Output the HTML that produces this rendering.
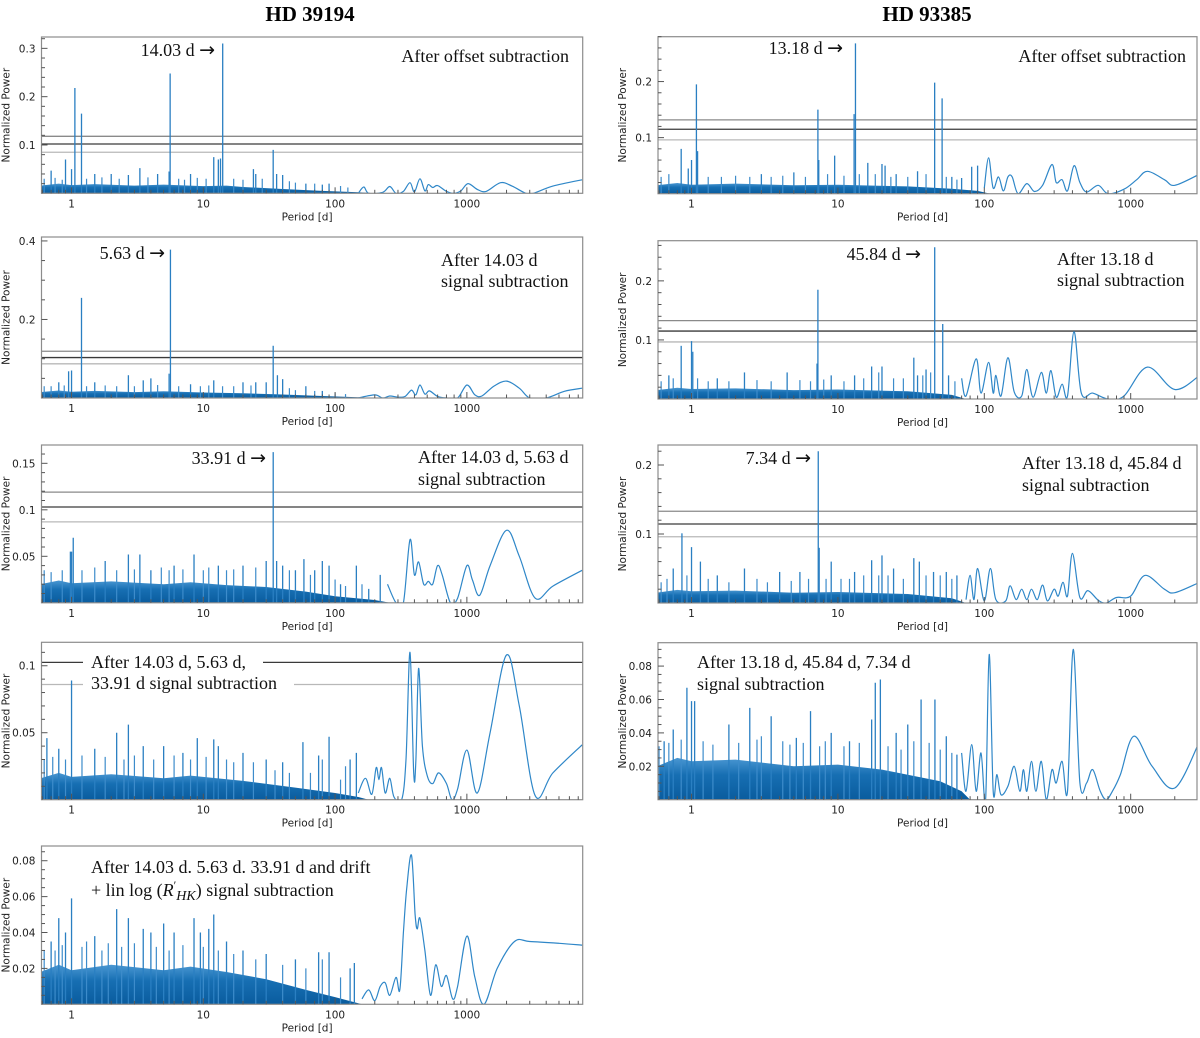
<!DOCTYPE html>
<html><head><meta charset="utf-8"><style>
html,body{margin:0;padding:0;background:#fff;}
svg{display:block;}
.tk{font-family:"DejaVu Sans","Liberation Sans",sans-serif;font-size:10.5px;fill:#222;}
.ann{font-family:"Liberation Serif",serif;font-size:18px;fill:#111;}
.ttl{font-family:"Liberation Serif",serif;font-size:21px;font-weight:bold;fill:#000;}
</style></head><body>
<svg id="fig" width="1200" height="1038" viewBox="0 0 1200 1038" xmlns="http://www.w3.org/2000/svg">
<defs><linearGradient id="nf" x1="0" y1="1" x2="0" y2="0"><stop offset="0" stop-color="#0a5c9e"/><stop offset="0.6" stop-color="#176fb3"/><stop offset="1" stop-color="#4a97d2"/></linearGradient></defs>
<text class="ttl" x="310" y="21" text-anchor="middle">HD 39194</text>
<text class="ttl" x="927" y="21" text-anchor="middle">HD 93385</text>
</svg>
<script>
// ---- data (period [d], power) ----
const l1Floor = [[0.58,0.016],[0.8,0.02],[1,0.017],[1.5,0.019],[3,0.016],[5,0.018],[10,0.015],[15,0.016],[20,0.013],[40,0.009],[80,0.005],[150,0.002],[200,0]];
const l1Spikes = [[1.06,0.218],[1.19,0.165],[5.6,0.248],[14.03,0.31],[33.9,0.09],[12,0.075],[13,0.07],[13.5,0.072],[0.9,0.07],[0.7,0.047],[1.0,0.05],[3.3,0.052],[24,0.05],[25,0.04],[36,0.04],[40,0.038],[2,0.04],[5.5,0.045],[1.5,0.04],[8,0.04],[60,0.02],[80,0.018],[90,0.02],[2.7,0.038],[4.5,0.04]];
const l1Minor = [[0.62,0.03],[0.75,0.032],[0.85,0.028],[1.3,0.03],[1.7,0.033],[2.3,0.03],[3.8,0.033],[6.5,0.03],[7.2,0.028],[9,0.032],[10.5,0.03],[17,0.03],[20,0.028],[28,0.03],[45,0.025],[50,0.022],[70,0.02],[110,0.015],[125,0.012]];
const l1Smooth = [[150,0],[165,0.013],[180,0],[230,0.002],[260,0.014],[290,0],[330,0.004],[370,0.022],[400,0.003],[440,0.03],[480,0.005],[510,0.018],[550,0.012],[600,0.016],[700,0.004],[800,0],[900,0.005],[1020,0.02],[1200,0.008],[1400,0.004],[1800,0.022],[2200,0.015],[2800,0],[3200,0],[4500,0.015],[7500,0.028]];

const l2Floor = [[0.58,0.015],[0.8,0.019],[1,0.016],[1.5,0.018],[3,0.015],[5,0.017],[10,0.014],[20,0.012],[40,0.009],[80,0.005],[150,0.002],[200,0]];
const l2Spikes = [[1.19,0.255],[5.63,0.378],[33.9,0.133],[36.5,0.058],[1.0,0.07],[0.95,0.068],[5.5,0.062],[2.7,0.058],[4,0.05],[3.5,0.045],[40,0.048],[30,0.04],[20,0.04],[12,0.045],[0.8,0.04],[8,0.035],[25,0.04],[60,0.03],[80,0.018],[1.5,0.04]];
const l2Minor = [[0.62,0.03],[0.7,0.03],[0.88,0.032],[1.3,0.03],[1.8,0.032],[2.2,0.03],[3,0.03],[4.5,0.033],[6.5,0.03],[9.5,0.03],[11,0.032],[14,0.03],[17,0.03],[23,0.032],[45,0.025],[50,0.02],[70,0.018],[100,0.012],[120,0.01]];
const l2Smooth = [[150,0],[200,0.008],[230,0],[260,0.005],[300,0.002],[340,0.004],[380,0.02],[410,0.008],[440,0.033],[480,0.01],[520,0.018],[600,0.004],[700,0],[850,0],[1000,0.033],[1150,0.008],[1300,0.005],[1600,0.03],[2000,0.043],[2500,0.025],[3000,0],[4000,0],[5500,0.017],[7500,0.025]];

const l3Floor = [[0.58,0.02],[0.8,0.024],[1,0.021],[2,0.023],[5,0.02],[8,0.022],[15,0.019],[30,0.017],[60,0.012],[100,0.007],[200,0.003],[260,0]];
const l3Spikes = [[33.91,0.162],[1.0,0.055],[1.03,0.07],[0.98,0.055],[1.8,0.045],[2.7,0.052],[3.3,0.052],[8.5,0.052],[13,0.04],[30,0.045],[36,0.045],[40,0.04],[58,0.047],[80,0.045],[90,0.04],[145,0.04],[220,0.03],[6,0.04],[4,0.035],[20,0.04],[50,0.035],[70,0.035],[110,0.02],[180,0.015]];
const l3Minor = [[0.62,0.035],[0.7,0.033],[0.85,0.035],[1.2,0.035],[1.5,0.038],[2.2,0.035],[3,0.036],[4.8,0.038],[5.5,0.035],[7,0.036],[10,0.035],[11,0.038],[15,0.035],[17,0.036],[25,0.038],[45,0.035],[65,0.03],[100,0.025],[120,0.018],[160,0.02]];
const l3Smooth = [[250,0.02],[290,0],[330,0],[370,0.068],[400,0.03],[430,0.044],[470,0.02],[510,0.023],[550,0.02],[600,0.04],[650,0.03],[750,0],[850,0.005],[1000,0.04],[1100,0.025],[1250,0.008],[1500,0.04],[2000,0.078],[2500,0.05],[3300,0.005],[4500,0.018],[7500,0.035]];

const l4Floor = [[0.58,0.016],[0.8,0.02],[1,0.017],[2,0.019],[5,0.016],[8,0.018],[20,0.014],[50,0.009],[100,0.005],[150,0.002],[180,0]];
const l4Spikes = [[1.0,0.089],[0.65,0.046],[0.8,0.038],[2.2,0.05],[2.7,0.056],[3.5,0.04],[9,0.046],[12,0.045],[13,0.04],[20,0.035],[57,0.043],[75,0.033],[90,0.047],[130,0.03],[145,0.035],[1.5,0.038],[5,0.04],[7,0.035],[30,0.03],[40,0.028]];
const l4Minor = [[0.62,0.03],[0.72,0.032],[0.9,0.03],[1.2,0.033],[1.8,0.032],[2.5,0.03],[3,0.033],[4.2,0.03],[6,0.033],[8,0.03],[10.5,0.032],[15,0.03],[17,0.028],[24,0.028],[35,0.022],[45,0.02],[65,0.02],[80,0.03],[110,0.015],[120,0.025]];
const l4Smooth = [[150,0.005],[170,0.016],[190,0.004],[205,0.024],[215,0.015],[225,0.024],[240,0.005],[260,0.016],[280,0.002],[320,0],[345,0.03],[370,0.11],[395,0.02],[410,0.028],[430,0.098],[460,0.04],[500,0.018],[550,0.012],[610,0.02],[700,0.012],[770,0],[850,0.008],[1000,0.037],[1200,0.005],[1500,0.05],[2000,0.108],[2500,0.07],[3300,0.003],[4500,0.02],[7500,0.041]];

const l5Floor = [[0.58,0.018],[0.8,0.022],[1,0.019],[2,0.022],[5,0.019],[8,0.021],[15,0.018],[30,0.014],[60,0.008],[100,0.004],[160,0]];
const l5Spikes = [[1.0,0.059],[0.8,0.048],[0.9,0.04],[2.2,0.053],[2.7,0.048],[3.5,0.042],[5,0.045],[8.5,0.048],[12,0.05],[11,0.042],[1.5,0.038],[4,0.04],[6,0.04],[9.5,0.04],[15,0.035],[20,0.03],[30,0.028],[50,0.025],[75,0.029],[90,0.029],[130,0.02],[140,0.023],[0.7,0.035]];
const l5Minor = [[0.62,0.03],[0.75,0.03],[0.85,0.033],[1.2,0.032],[1.3,0.035],[1.7,0.03],[1.9,0.034],[2.4,0.032],[3,0.034],[4.4,0.032],[5.5,0.03],[7,0.033],[10,0.032],[13,0.03],[17,0.028],[25,0.025],[40,0.022],[60,0.02],[80,0.025],[110,0.015]];
const l5Smooth = [[160,0.003],[180,0.008],[200,0.002],[220,0.01],[240,0.012],[260,0.005],[290,0.015],[310,0.008],[330,0.04],[350,0.065],[380,0.083],[405,0.05],[420,0.042],[440,0.048],[480,0.03],[530,0.005],[580,0.022],[640,0.01],[700,0.016],[780,0.003],[850,0.01],[1000,0.038],[1150,0.015],[1350,0],[1700,0.02],[2300,0.035],[3000,0.035],[5000,0.034],[7500,0.033]];

const r1Floor = [[0.58,0.015],[0.8,0.019],[1,0.016],[2,0.018],[5,0.015],[10,0.016],[30,0.013],[60,0.009],[90,0.005],[110,0]];
const r1Spikes = [[1.08,0.195],[0.85,0.08],[1.1,0.076],[7.3,0.15],[12.9,0.142],[13.18,0.268],[45.8,0.198],[51.5,0.17],[9.5,0.068],[1.0,0.06],[7.4,0.06],[16,0.055],[20,0.053],[21,0.05],[35,0.04],[0.95,0.045],[3,0.035],[5,0.038],[25,0.035],[60,0.03],[70,0.028],[82,0.048],[90,0.05]];
const r1Minor = [[0.62,0.03],[0.7,0.035],[1.3,0.03],[1.6,0.03],[2,0.032],[2.5,0.03],[3.5,0.03],[4.2,0.032],[6,0.03],[8.5,0.035],[11,0.032],[14,0.035],[18,0.035],[23,0.03],[30,0.03],[40,0.035],[55,0.03],[65,0.025]];
const r1Smooth = [[100,0.01],[107,0.064],[115,0.01],[125,0.03],[135,0.005],[145,0.03],[155,0.03],[170,0],[195,0.018],[220,0.004],[250,0.015],[290,0.052],[310,0.02],[340,0.025],[370,0.005],[410,0.05],[450,0.02],[500,0.003],[600,0.015],[700,0],[900,0.008],[1100,0.025],[1300,0.04],[1700,0.025],[2000,0.015],[2960,0.035]];

const r2Floor = [[0.58,0.015],[0.8,0.019],[1,0.017],[2,0.018],[5,0.015],[10,0.016],[30,0.013],[60,0.007],[75,0]];
const r2Spikes = [[0.85,0.09],[1.0,0.098],[1.02,0.08],[7.3,0.185],[7.2,0.06],[45.84,0.257],[52,0.127],[33,0.07],[17,0.055],[20,0.055],[13,0.04],[2.3,0.045],[4.5,0.045],[0.7,0.04],[9,0.04],[40,0.05],[35,0.04],[57,0.04],[1.5,0.035]];
const r2Minor = [[0.62,0.03],[0.75,0.035],[1.1,0.035],[1.3,0.03],[1.8,0.03],[2.8,0.032],[3.5,0.03],[5.5,0.032],[6.5,0.03],[8,0.033],[11,0.03],[15,0.035],[19,0.045],[24,0.035],[28,0.035],[38,0.04],[43,0.045],[63,0.03]];
const r2Smooth = [[70,0.035],[75,0.005],[88,0.068],[95,0.01],[107,0.062],[115,0.01],[120,0.04],[130,0.005],[145,0.07],[160,0.012],[180,0.005],[195,0.05],[215,0.003],[245,0.045],[265,0.01],[285,0.048],[310,0.003],[340,0.025],[370,0.005],[410,0.114],[460,0.01],[550,0.01],[700,0],[900,0.005],[1300,0.054],[2000,0.016],[2960,0.04]];

const r3Floor = [[0.58,0.015],[0.8,0.019],[1,0.017],[2,0.018],[5,0.015],[10,0.016],[30,0.013],[60,0.007],[75,0]];
const r3Spikes = [[7.34,0.22],[7.45,0.08],[0.86,0.101],[1.0,0.081],[1.15,0.06],[9,0.06],[17,0.062],[20,0.069],[33,0.065],[36,0.06],[24,0.05],[2.3,0.05],[4,0.045],[0.75,0.05],[13,0.045],[45,0.045],[55,0.045],[65,0.04],[5.5,0.045],[1.5,0.04]];
const r3Minor = [[0.62,0.03],[0.68,0.035],[0.93,0.04],[1.3,0.035],[1.8,0.03],[2.8,0.035],[3.3,0.03],[4.8,0.032],[6.3,0.035],[8.3,0.035],[10.5,0.035],[12,0.035],[15,0.04],[19,0.04],[22,0.04],[28,0.035],[40,0.04],[50,0.04],[60,0.035]];
const r3Smooth = [[75,0.005],[80,0.04],[85,0.005],[90,0.05],[100,0.003],[110,0.05],[120,0.005],[140,0.003],[150,0.025],[165,0.005],[180,0.02],[195,0.005],[210,0.02],[230,0.005],[250,0.026],[270,0.003],[300,0.02],[320,0.01],[345,0.03],[370,0.01],[400,0.072],[450,0.008],[510,0.018],[600,0.004],[680,0],[800,0.008],[1000,0.01],[1250,0.04],[1700,0.02],[2000,0.015],[2960,0.03]];

const r4Floor = [[0.58,0.02],[0.8,0.025],[1,0.023],[2,0.024],[5,0.02],[10,0.021],[20,0.018],[50,0.011],[70,0.005],[80,0]];
const r4Spikes = [[0.93,0.067],[1.0,0.059],[1.05,0.059],[0.75,0.042],[1.8,0.045],[2.5,0.055],[3.5,0.05],[5.2,0.037],[6.5,0.053],[9,0.04],[18,0.07],[19.5,0.072],[17,0.048],[37,0.06],[46,0.06],[30,0.045],[55,0.038],[0.65,0.035],[12,0.035],[25,0.04],[65,0.027]];
const r4Minor = [[0.6,0.032],[0.7,0.034],[0.85,0.036],[1.2,0.035],[1.4,0.033],[2.1,0.034],[2.8,0.036],[3,0.038],[4.2,0.035],[4.7,0.033],[5.8,0.034],[7.5,0.032],[8.2,0.035],[11,0.032],[14,0.034],[22,0.032],[27,0.03],[33,0.035],[42,0.034],[50,0.03],[60,0.028]];
const r4Smooth = [[70,0.028],[75,0.005],[82,0.033],[88,0.005],[95,0.028],[102,0],[108,0.087],[115,0.005],[122,0.015],[130,0.003],[145,0.008],[160,0.02],[175,0.005],[185,0.018],[195,0.005],[210,0.023],[225,0.005],[245,0.023],[265,0],[290,0.018],[310,0.01],[340,0.023],[370,0.005],[405,0.09],[450,0.01],[500,0.01],[550,0.018],[620,0.005],[680,0],[750,0.005],[850,0.015],[1050,0.038],[1400,0.02],[2000,0.007],[2960,0.035]];

const xTickVals = [1,10,100,1000];
const xTickLabels = ['1','10','100','1000'];

const NS='http://www.w3.org/2000/svg';
const svg=document.getElementById('fig');
function mk(tag,attrs,parent){const e=document.createElementNS(NS,tag);for(const k in attrs)e.setAttribute(k,attrs[k]);(parent||svg).appendChild(e);return e;}

const L={x0:41.5,x1:582.7,lmin:-0.228,lmax:3.879};
const R={x0:658,x1:1197,lmin:-0.229,lmax:3.453};

const panels=[
 {id:'l1',c:L,y0:37,y1:193.3,ymax:0.3235,maj:0.1,min:0.02,ticks:[0.1,0.2,0.3],dec:1,thr:[[0.118,'#8a8a8a'],[0.102,'#3a3a3a'],[0.085,'#b8b8b8']],floor:l1Floor,spikes:l1Spikes,minor:l1Minor,smooth:l1Smooth,
  texts:[{t:'14.03 d',ar:true,x:215,y:56,a:'end'},{t:'After offset subtraction',x:569,y:62,a:'end'}]},
 {id:'l2',c:L,y0:237,y1:398,ymax:0.41,maj:0.2,min:0.05,ticks:[0.2,0.4],dec:1,thr:[[0.119,'#8a8a8a'],[0.103,'#3a3a3a'],[0.087,'#b8b8b8']],floor:l2Floor,spikes:l2Spikes,minor:l2Minor,smooth:l2Smooth,
  texts:[{t:'5.63 d',ar:true,x:165,y:259,a:'end'},{t:'After 14.03 d',x:441,y:266,a:'start'},{t:'signal subtraction',x:441,y:287,a:'start'}]},
 {id:'l3',c:L,y0:445,y1:602.8,ymax:0.1697,maj:0.05,min:0.01,ticks:[0.05,0.1,0.15],dec:2,thr:[[0.119,'#8a8a8a'],[0.103,'#3a3a3a'],[0.087,'#b8b8b8']],floor:l3Floor,spikes:l3Spikes,minor:l3Minor,smooth:l3Smooth,
  texts:[{t:'33.91 d',ar:true,x:266,y:464,a:'end'},{t:'After 14.03 d, 5.63 d',x:418,y:463,a:'start'},{t:'signal subtraction',x:418,y:485,a:'start'}]},
 {id:'l4',c:L,y0:642.3,y1:799.7,ymax:0.1175,maj:0.05,min:0.01,ticks:[0.05,0.1],dec:2,thr:[[0.1025,'#3a3a3a',[83,263]],[0.086,'#b8b8b8',[83,294]]],floor:l4Floor,spikes:l4Spikes,minor:l4Minor,smooth:l4Smooth,
  texts:[{t:'After 14.03 d, 5.63 d,',x:91,y:668,a:'start'},{t:'33.91 d signal subtraction',x:91,y:689,a:'start'}]},
 {id:'l5',c:L,y0:846,y1:1004.3,ymax:0.0882,maj:0.02,min:0.005,ticks:[0.02,0.04,0.06,0.08],dec:2,thr:[],floor:l5Floor,spikes:l5Spikes,minor:l5Minor,smooth:l5Smooth,
  texts:[{t:'After 14.03 d. 5.63 d. 33.91 d and drift',x:91,y:873,a:'start'},{rhk:true,x:91,y:896}]},
 {id:'r1',c:R,y0:36.7,y1:193.7,ymax:0.28,maj:0.1,min:0.02,ticks:[0.1,0.2],dec:1,thr:[[0.1316,'#8a8a8a'],[0.115,'#3a3a3a'],[0.096,'#b8b8b8']],floor:r1Floor,spikes:r1Spikes,minor:r1Minor,smooth:r1Smooth,
  texts:[{t:'13.18 d',ar:true,x:843,y:54,a:'end'},{t:'After offset subtraction',x:1186,y:62,a:'end'}]},
 {id:'r2',c:R,y0:240.7,y1:399,ymax:0.268,maj:0.1,min:0.02,ticks:[0.1,0.2],dec:1,thr:[[0.1327,'#8a8a8a'],[0.115,'#3a3a3a'],[0.0966,'#b8b8b8']],floor:r2Floor,spikes:r2Spikes,minor:r2Minor,smooth:r2Smooth,
  texts:[{t:'45.84 d',ar:true,x:921,y:260,a:'end'},{t:'After 13.18 d',x:1057,y:265,a:'start'},{t:'signal subtraction',x:1057,y:286,a:'start'}]},
 {id:'r3',c:R,y0:445,y1:603,ymax:0.229,maj:0.1,min:0.02,ticks:[0.1,0.2],dec:1,thr:[[0.133,'#8a8a8a'],[0.1145,'#3a3a3a'],[0.096,'#b8b8b8']],floor:r3Floor,spikes:r3Spikes,minor:r3Minor,smooth:r3Smooth,
  texts:[{t:'7.34 d',ar:true,x:811,y:464,a:'end'},{t:'After 13.18 d, 45.84 d',x:1022,y:469,a:'start'},{t:'signal subtraction',x:1022,y:491,a:'start'}]},
 {id:'r4',c:R,y0:642.7,y1:799.7,ymax:0.094,maj:0.02,min:0.005,ticks:[0.02,0.04,0.06,0.08],dec:2,thr:[],floor:r4Floor,spikes:r4Spikes,minor:r4Minor,smooth:r4Smooth,
  texts:[{t:'After 13.18 d, 45.84 d, 7.34 d',x:697,y:668,a:'start'},{t:'signal subtraction',x:697,y:690,a:'start'}]}
];

function catmull(pts){
  let d='M'+pts[0][0].toFixed(1)+','+pts[0][1].toFixed(1);
  for(let i=0;i<pts.length-1;i++){
    const p0=pts[Math.max(0,i-1)],p1=pts[i],p2=pts[i+1],p3=pts[Math.min(pts.length-1,i+2)];
    const c1x=p1[0]+(p2[0]-p0[0])/6,c1y=p1[1]+(p2[1]-p0[1])/6;
    const c2x=p2[0]-(p3[0]-p1[0])/6,c2y=p2[1]-(p3[1]-p1[1])/6;
    d+=' C'+c1x.toFixed(1)+','+c1y.toFixed(1)+' '+c2x.toFixed(1)+','+c2y.toFixed(1)+' '+p2[0].toFixed(1)+','+p2[1].toFixed(1);
  }
  return d;
}

panels.forEach(p=>{
  const c=p.c;
  const X=per=>c.x0+(Math.log10(per)-c.lmin)/(c.lmax-c.lmin)*(c.x1-c.x0);
  const Y=v=>p.y1-v/p.ymax*(p.y1-p.y0);
  const g=mk('g',{});
  
  
  const cid='clip-'+p.id;
  const cp=mk('clipPath',{id:cid},g);
  mk('rect',{x:c.x0,y:p.y0,width:c.x1-c.x0,height:p.y1-p.y0},cp);
  const plot=mk('g',{'clip-path':'url(#'+cid+')'},g);
  p.thr.forEach(t=>{
    const yy=Y(t[0]);
    const segs=t[2]?[[c.x0,t[2][0]],[t[2][1],c.x1]]:[[c.x0,c.x1]];
    segs.forEach(s=>{
      const ln=mk('line',{x1:s[0],x2:s[1],y1:yy,y2:yy,stroke:t[1],'stroke-width':1.3},plot);
      
      
    });
  });
  let fd='M'+X(p.floor[0][0])+','+Y(0);
  p.floor.forEach(f=>{fd+=' L'+X(f[0]).toFixed(1)+','+Y(f[1]).toFixed(1);});
  fd+=' L'+X(p.floor[p.floor.length-1][0]).toFixed(1)+','+Y(0)+' Z';
  const fl=mk('path',{d:fd,fill:'url(#nf)'},plot);
  
  
  p.minor.forEach(s=>{
    const ln=mk('line',{x1:X(s[0]),x2:X(s[0]),y1:Y(0),y2:Y(s[1]),stroke:'#3d8ccb','stroke-width':1.2},plot);
    
    
  });
  p.spikes.forEach(s=>{
    const ln=mk('line',{x1:X(s[0]),x2:X(s[0]),y1:Y(0),y2:Y(s[1]),stroke:'#2a7fc2','stroke-width':1.3},plot);
    
    
  });
  const pts=p.smooth.map(s=>[X(s[0]),Y(s[1])]);
  const sm=mk('path',{d:catmull(pts),fill:'none',stroke:'#2f87c8','stroke-width':1.2},plot);
  
  
  const fr=mk('rect',{x:c.x0,y:p.y0,width:c.x1-c.x0,height:p.y1-p.y0,fill:'none',stroke:'#8c8c8c','stroke-width':1.2},g);
  
  
  for(let e=-1;e<=4;e++){for(let k=1;k<=9;k++){
    const per=k*Math.pow(10,e);const lg=Math.log10(per);
    if(lg<c.lmin||lg>c.lmax)continue;
    const xx=X(per);const L2=k===1?6:3.5;
    mk('line',{x1:xx,x2:xx,y1:p.y1,y2:p.y1-L2,stroke:'#555','stroke-width':1},g);
  }}
  xTickVals.forEach((v,i)=>{
    const t=mk('text',{x:X(v),y:p.y1+14,'text-anchor':'middle',class:'tk'},g);
    t.textContent=xTickLabels[i];
    
    
  });
  const xt=mk('text',{x:(c.x0+c.x1)/2-5,y:p.y1+27,'text-anchor':'middle',class:'tk'},g);
  xt.textContent='Period [d]';
  
  
  for(let v=p.min;v<p.ymax;v+=p.min){
    const yy=Y(v);if(yy<p.y0)break;
    const isMaj=Math.abs(v/p.maj-Math.round(v/p.maj))<1e-6;
    mk('line',{x1:c.x0,x2:c.x0+(isMaj?6:3.5),y1:yy,y2:yy,stroke:'#555','stroke-width':1},g);
  }
  p.ticks.forEach(v=>{
    const t=mk('text',{x:c.x0-6,y:Y(v)+4,'text-anchor':'end',class:'tk'},g);
    t.textContent=String(+v.toFixed(p.dec));
    
    
  });
  const ymid=(p.y0+p.y1)/2;
  const ax=c.x0-32;
  const yt=mk('text',{x:ax,y:ymid,'text-anchor':'middle',class:'tk',transform:'rotate(-90 '+ax+' '+ymid+')'},g);
  yt.textContent='Normalized Power';
  
  
  p.texts.forEach(tx=>{
    const t=mk('text',{x:tx.x,y:tx.y,'text-anchor':tx.a||'start',class:'ann'},g);
    
    
    if(tx.rhk){
      t.innerHTML='+ lin log (<tspan font-style="italic">R</tspan><tspan dy="-7" font-size="12">′</tspan><tspan dy="11" font-size="14" font-style="italic">HK</tspan><tspan dy="-4">) signal subtraction</tspan>';
    } else if(tx.ar){
      t.innerHTML=tx.t+' <tspan font-family="DejaVu Sans" font-size="19">→</tspan>';
    } else t.textContent=tx.t;
  });
});
</script>
</body></html>
